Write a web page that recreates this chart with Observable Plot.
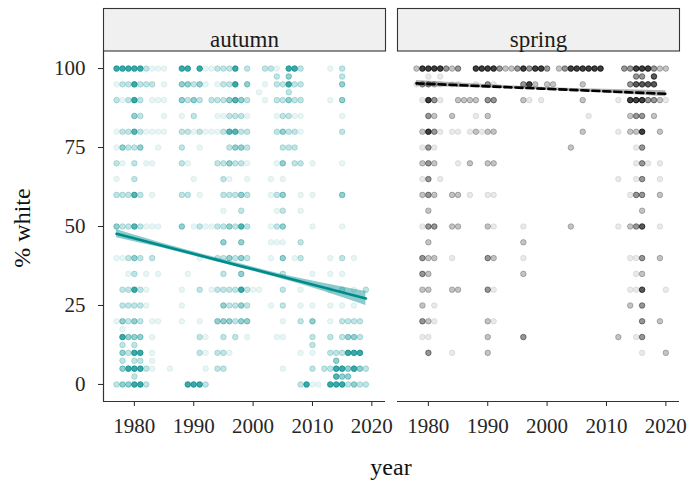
<!DOCTYPE html>
<html><head><meta charset="utf-8">
<script src="https://cdn.jsdelivr.net/npm/d3@7"></script>
<script src="https://cdn.jsdelivr.net/npm/@observablehq/plot@0.6"></script>
<style>
body{margin:0;background:#fff;}
#wrap{position:relative;width:689px;height:484px;font-family:"Liberation Serif","DejaVu Serif",serif;}
.lab{position:absolute;color:#111;font-size:24px;line-height:1;white-space:nowrap;}
</style></head><body><div id="wrap"></div>
<script>
// ---- data ----
const seasons = ["autumn", "spring"];
const xTicks = [1980, 1990, 2000, 2010, 2020];
const yTicks = [0, 25, 50, 75, 100];
const xDomain = [1974.8, 2022.3];
const yDomain = [-5.4, 105.4];
const xTitle = "year";
const yTitle = "% white";

// [year, % white, number of overlapping observations]
const autumnPoints = [
[1977,100,16],[1978,100,16],[1979,100,16],[1980,100,16],[1981,100,16],[1982,100,3],[1983,100,1],[1984,100,1],[1985,100,1],
[1988,100,16],[1989,100,16],[1991,100,16],[1992,100,1],[1993,100,1],[1994,100,3],[1995,100,3],[1996,100,3],[1997,100,16],[1999,100,3],
[2002,100,3],[2003,100,3],[2004,100,1],[2006,100,16],[2007,100,16],[2008,100,3],[2013,100,1],[2015,100,3],
[2004,97.5,3],[2006,97.5,6],[2015,97.5,3],
[1977,95,1],[1978,95,3],[1979,95,3],[1980,95,16],[1981,95,3],[1982,95,3],[1983,95,3],[1985,95,1],
[1988,95,6],[1989,95,6],[1990,95,3],[1991,95,6],[1992,95,1],[1994,95,1],[1995,95,3],[1996,95,3],[1997,95,16],[1999,95,6],
[2002,95,1],[2004,95,3],[2005,95,3],[2006,95,16],[2007,95,3],[2008,95,3],[2015,95,6],
[2001,92.5,1],[2006,92.5,3],
[1977,90,3],[1978,90,1],[1979,90,3],[1980,90,16],[1981,90,3],[1983,90,1],[1984,90,1],[1985,90,1],
[1988,90,6],[1989,90,3],[1990,90,6],[1991,90,3],[1993,90,3],[1994,90,3],[1995,90,3],[1996,90,6],[1997,90,12],[1998,90,6],[1999,90,3],
[2002,90,1],[2004,90,3],[2005,90,3],[2006,90,6],[2007,90,3],[2008,90,3],[2013,90,1],[2015,90,6],
[1980,85,6],[1981,85,3],[1985,85,1],[1988,85,1],[1990,85,3],[1994,85,1],[1995,85,1],[1996,85,3],[1997,85,3],[1998,85,3],[1999,85,1],
[2004,85,1],[2005,85,3],[2006,85,3],[2007,85,1],[2008,85,1],[2015,85,1],
[1977,80,1],[1978,80,3],[1979,80,3],[1980,80,12],[1981,80,3],[1982,80,1],[1983,80,1],[1984,80,1],[1985,80,1],
[1988,80,3],[1989,80,3],[1990,80,1],[1991,80,3],[1992,80,1],[1993,80,1],[1994,80,1],[1995,80,3],[1996,80,12],[1997,80,12],[1998,80,3],[1999,80,3],
[2004,80,3],[2005,80,6],[2006,80,3],[2007,80,3],[2008,80,1],[2015,80,3],
[1977,75,1],[1978,75,6],[1979,75,3],[1980,75,3],[1981,75,6],[1984,75,1],[1988,75,3],[1991,75,1],
[1996,75,3],[1997,75,6],[1998,75,6],[1999,75,3],[2005,75,3],[2006,75,3],[2007,75,3],
[1977,70,3],[1978,70,1],[1980,70,3],[1982,70,1],[1983,70,1],[1988,70,3],[1989,70,1],
[1994,70,3],[1995,70,3],[1996,70,6],[1997,70,3],[1998,70,3],[1999,70,1],
[2004,70,1],[2005,70,6],[2007,70,3],[2008,70,3],[2010,70,1],[2015,70,1],
[1977,65,1],[1980,65,3],[1990,65,1],[1995,65,3],[1996,65,1],[1999,65,1],[2003,65,1],[2005,65,1],
[1977,60,3],[1978,60,3],[1979,60,3],[1980,60,12],[1981,60,3],[1983,60,1],[1988,60,3],[1989,60,3],[1991,60,1],
[1995,60,3],[1996,60,3],[1997,60,3],[1998,60,6],[1999,60,3],[2003,60,1],[2004,60,3],[2005,60,6],[2008,60,1],[2010,60,1],[2015,60,6],
[1995,55,1],[1998,55,3],[2004,55,1],[2005,55,3],[2008,55,1],
[1977,50,6],[1978,50,3],[1979,50,3],[1980,50,12],[1981,50,3],[1982,50,1],[1983,50,1],[1984,50,1],
[1988,50,6],[1990,50,1],[1991,50,3],[1992,50,1],[1993,50,1],[1994,50,3],[1995,50,3],[1996,50,6],[1997,50,3],[1998,50,12],[1999,50,3],
[2003,50,1],[2004,50,3],[2005,50,6],[2010,50,1],[2015,50,1],
[1995,45,6],[1998,45,6],[2003,45,1],[2004,45,1],[2005,45,1],[2008,45,3],
[1977,40,1],[1978,40,1],[1979,40,3],[1980,40,6],[1981,40,3],[1983,40,3],[1991,40,1],
[1994,40,3],[1995,40,3],[1996,40,6],[1997,40,3],[1998,40,6],[1999,40,3],[2003,40,1],[2005,40,6],[2007,40,1],[2008,40,3],[2013,40,1],[2015,40,3],[2017,40,1],
[1979,35,1],[1980,35,3],[1982,35,1],[1984,35,1],[1989,35,1],[1995,35,3],[1998,35,6],[2005,35,3],[2010,35,1],[2013,35,1],[2015,35,1],
[1978,30,3],[1979,30,3],[1980,30,16],[1981,30,3],[1982,30,1],[1988,30,1],[1991,30,3],[1993,30,1],
[1994,30,3],[1995,30,3],[1996,30,3],[1997,30,3],[1998,30,16],[1999,30,3],[2000,30,1],[2001,30,1],
[2005,30,3],[2008,30,1],[2013,30,1],[2015,30,3],[2017,30,1],[2019,30,3],
[1978,25,3],[1979,25,3],[1980,25,3],[1981,25,3],[1982,25,1],[1988,25,1],
[1995,25,6],[1996,25,3],[1997,25,3],[1998,25,6],[1999,25,3],[2003,25,1],[2005,25,3],[2008,25,1],[2010,25,1],[2013,25,1],[2015,25,1],[2017,25,1],
[1977,20,1],[1978,20,6],[1979,20,3],[1980,20,6],[1981,20,3],[1983,20,1],[1984,20,1],[1988,20,1],[1991,20,1],
[1994,20,6],[1995,20,6],[1996,20,6],[1997,20,3],[1998,20,6],[1999,20,6],[2005,20,1],[2008,20,3],[2010,20,6],
[2013,20,1],[2015,20,3],[2016,20,3],[2017,20,3],[2018,20,3],
[1978,17.5,1],
[1978,15,16],[1979,15,6],[1980,15,6],[1981,15,6],[1983,15,1],[1991,15,3],[1992,15,1],[1995,15,3],[1997,15,3],[1999,15,1],
[2004,15,1],[2005,15,1],[2010,15,3],[2013,15,3],[2015,15,3],[2016,15,6],[2017,15,6],[2018,15,3],
[1978,12.5,3],[1980,12.5,3],[2010,12.5,3],
[1978,10,6],[1979,10,3],[1980,10,16],[1981,10,16],[1983,10,1],[1991,10,3],[1992,10,1],[1994,10,3],[1995,10,3],[1996,10,1],
[2008,10,1],[2010,10,1],[2013,10,3],[2014,10,3],[2015,10,3],[2016,10,16],[2017,10,16],[2018,10,16],
[1978,7.5,3],[1980,7.5,3],[1981,7.5,3],[1983,7.5,1],[2014,7.5,6],
[1978,5,6],[1979,5,16],[1980,5,16],[1981,5,16],[1982,5,3],[1983,5,1],[1986,5,1],[1992,5,1],[1994,5,3],[1995,5,3],[2005,5,1],[2010,5,3],
[2012,5,3],[2013,5,3],[2014,5,16],[2015,5,16],[2016,5,6],[2017,5,16],[2018,5,6],[2019,5,3],
[1980,2.5,3],[2014,2.5,12],[2015,2.5,6],[2016,2.5,6],
[1977,0,3],[1978,0,6],[1979,0,6],[1980,0,16],[1981,0,16],[1982,0,3],[1989,0,16],[1990,0,16],[1991,0,16],[1992,0,3],
[2008,0,3],[2009,0,16],[2010,0,1],[2011,0,1],[2013,0,16],[2014,0,16],[2015,0,16],[2016,0,3],[2017,0,6],[2018,0,3],[2019,0,3]
];

const springPoints = [
[1978,100,3],[1979,100,16],[1980,100,16],[1981,100,16],[1982,100,16],[1983,100,6],[1984,100,3],[1985,100,6],
[1988,100,16],[1989,100,16],[1990,100,16],[1991,100,16],[1992,100,6],[1993,100,3],[1994,100,3],[1995,100,6],[1996,100,16],[1997,100,6],[1998,100,16],[1999,100,16],[2000,100,6],
[2002,100,3],[2003,100,6],[2004,100,16],[2005,100,16],[2006,100,16],[2007,100,16],[2008,100,16],[2009,100,16],
[2013,100,6],[2014,100,6],[2015,100,16],[2016,100,16],[2017,100,16],[2018,100,6],[2019,100,3],[2020,100,3],
[1980,97.5,1],[1982,97.5,1],[2015,97.5,6],[2016,97.5,6],[2018,97.5,12],
[1978,95,1],[1979,95,6],[1980,95,6],[1981,95,3],[1982,95,1],[1984,95,1],[1985,95,1],[1988,95,1],[1990,95,6],[1991,95,1],
[1996,95,6],[1997,95,16],[1998,95,3],[2000,95,3],[2001,95,3],[2006,95,3],
[2014,95,6],[2015,95,12],[2016,95,12],[2017,95,12],[2018,95,12],
[1979,90,1],[1980,90,16],[1981,90,6],[1982,90,1],[1985,90,3],[1986,90,3],[1987,90,3],[1988,90,3],[1990,90,6],[1991,90,6],
[1996,90,3],[1997,90,1],[1999,90,1],[2006,90,3],[2012,90,1],[2014,90,16],[2015,90,16],[2016,90,16],[2017,90,6],[2018,90,6],[2019,90,3],[2020,90,1],
[1980,85,6],[1981,85,3],[1984,85,3],[1988,85,1],[1990,85,3],[2007,85,1],[2014,85,3],[2015,85,6],[2016,85,6],[2018,85,3],
[1979,80,3],[1980,80,16],[1981,80,6],[1982,80,1],[1984,80,1],[1985,80,1],[1987,80,1],[1988,80,3],[1989,80,1],[1990,80,3],[1991,80,3],
[2006,80,3],[2012,80,1],[2014,80,3],[2015,80,3],[2016,80,16],[2019,80,3],
[1979,75,1],[1980,75,6],[1981,75,1],[2004,75,3],[2015,75,1],[2016,75,6],
[1979,70,3],[1980,70,6],[1981,70,3],[1985,70,1],[1987,70,3],[1990,70,3],[1991,70,3],[2015,70,1],[2016,70,6],[2017,70,1],[2019,70,1],
[1979,65,1],[1980,65,6],[1982,65,1],[2012,65,1],[2015,65,1],[2016,65,6],[2019,65,1],
[1979,60,3],[1980,60,6],[1981,60,3],[1984,60,3],[1985,60,3],[1987,60,1],[1990,60,1],[1991,60,1],[2014,60,1],[2015,60,6],[2016,60,6],[2019,60,3],
[1980,55,3],[2016,55,3],
[1979,50,1],[1980,50,6],[1981,50,6],[1984,50,3],[1985,50,3],[1990,50,3],[1991,50,1],[1996,50,1],[2004,50,3],
[2012,50,1],[2014,50,3],[2015,50,6],[2016,50,12],[2019,50,1],
[1980,45,3],[1996,45,3],
[1979,40,6],[1980,40,3],[1981,40,3],[1984,40,1],[1990,40,6],[1991,40,3],[1996,40,1],[2014,40,1],[2015,40,1],[2016,40,6],[2019,40,3],
[1979,35,6],[1980,35,3],[1996,35,3],[2015,35,1],[2016,35,3],
[1979,30,3],[1980,30,3],[1984,30,3],[1985,30,3],[1990,30,6],[1991,30,1],[2014,30,1],[2015,30,1],[2016,30,12],[2020,30,1],
[1979,25,3],[1981,25,1],[2014,25,3],[2016,25,6],
[1979,20,6],[1980,20,3],[1981,20,1],[1990,20,3],[1991,20,1],[2016,20,6],[2019,20,3],
[1979,15,1],[1980,15,1],[1990,15,3],[1996,15,6],[2012,15,3],[2015,15,1],[2016,15,6],
[1980,10,6],[1984,10,1],[1990,10,3],[2016,10,1],[2020,10,3]
];

// fitted linear trend with its confidence band
const autumnFitYear = [1977, 1987, 1998, 2008, 2019];
const autumnFit     = [47.7, 42.8, 37.45, 32.6, 27.2];
const autumnFitLo   = [46.4, 42.1, 36.8, 31.7, 25.0];
const autumnFitHi   = [49.05, 43.5, 38.1, 33.5, 29.4];
const springFitYear = [1978, 1999, 2020];
const springFit     = [95.3, 93.65, 92.0];
const springFitLo   = [94.4, 93.2, 91.1];
const springFitHi   = [96.2, 94.1, 93.0];

// ---- build tables ----
const teal = "#008b8b";
const black = "#000000";
const alpha = 0.085;
const toRows = (pts, season) => pts.map(([year, pct, n]) => ({season, year, pct, n}));
const autumnRows = toRows(autumnPoints, "autumn");
const springRows = toRows(springPoints, "spring");
const fitRows = (years, fit, lo, hi, season) => years.map((year, i) => ({season, year, fit: fit[i], lo: lo[i], hi: hi[i]}));
const autumnFitRows = fitRows(autumnFitYear, autumnFit, autumnFitLo, autumnFitHi, "autumn");
const springFitRows = fitRows(springFitYear, springFit, springFitLo, springFitHi, "spring");
const op = d => 1 - Math.pow(1 - alpha, d.n);

const marginTop = 51, marginBottom = 83, H = 484;
const panelH = H - marginTop - marginBottom;

const plot = Plot.plot({
  width: 689,
  height: H,
  marginLeft: 103,
  marginRight: 10,
  marginTop,
  marginBottom,
  style: {fontFamily: "'Liberation Serif', serif", fontSize: "21px", color: "#262626", background: "#fff", overflow: "visible"},
  opacity: {type: "identity"},
  fx: {domain: seasons, paddingInner: 0.042, paddingOuter: 0, axis: null, label: null},
  x: {domain: xDomain, ticks: xTicks, tickFormat: d => String(d), tickSize: 5, tickPadding: 12, label: null},
  y: {domain: yDomain, ticks: yTicks, tickSize: 5, tickPadding: 13, label: null},
  marks: [
    // strip boxes and labels
    Plot.frame({fill: "#f0f0f0", stroke: "#333", strokeWidth: 1.1, insetTop: -43, insetBottom: panelH + 0.5}),
    Plot.text(seasons, {fx: d => d, text: d => d, frameAnchor: "top", dy: -21, fontSize: 23, fill: "#1a1a1a"}),
    // axis lines
    Plot.ruleY([yDomain[0]], {stroke: "#333", strokeWidth: 1.2}),
    Plot.ruleX([{season: "autumn"}], {fx: "season", x: () => xDomain[0], y1: () => yDomain[0], y2: () => yDomain[1], stroke: "#333", strokeWidth: 1.2}),
    // points
    Plot.dot(autumnRows, {fx: "season", x: "year", y: "pct", r: 2.8, fill: teal, stroke: teal, strokeWidth: 1, fillOpacity: op, strokeOpacity: op}),
    Plot.dot(springRows, {fx: "season", x: "year", y: "pct", r: 2.8, fill: black, stroke: black, strokeWidth: 1, fillOpacity: op, strokeOpacity: op}),
    // confidence bands
    Plot.areaY(autumnFitRows, {fx: "season", x: "year", y1: "lo", y2: "hi", fill: teal, fillOpacity: 0.45, curve: "natural"}),
    Plot.areaY(springFitRows, {fx: "season", x: "year", y1: "lo", y2: "hi", fill: "#555", fillOpacity: 0.45, curve: "natural"}),
    // trend lines
    Plot.line(autumnFitRows, {fx: "season", x: "year", y: "fit", stroke: teal, strokeWidth: 2.6}),
    Plot.line(springFitRows, {fx: "season", x: "year", y: "fit", stroke: "#000", strokeWidth: 2.6, strokeDasharray: "7,4"})
  ]
});

const wrap = document.getElementById("wrap");
wrap.appendChild(plot);
const xl = document.createElement("div");
xl.className = "lab"; xl.textContent = xTitle;
xl.style.left = "391px"; xl.style.top = "467px"; xl.style.transform = "translate(-50%,-50%)";
wrap.appendChild(xl);
const yl = document.createElement("div");
yl.className = "lab"; yl.textContent = yTitle;
yl.style.left = "22px"; yl.style.top = "228px"; yl.style.transform = "translate(-50%,-50%) rotate(-90deg)";
wrap.appendChild(yl);
</script></body></html>
